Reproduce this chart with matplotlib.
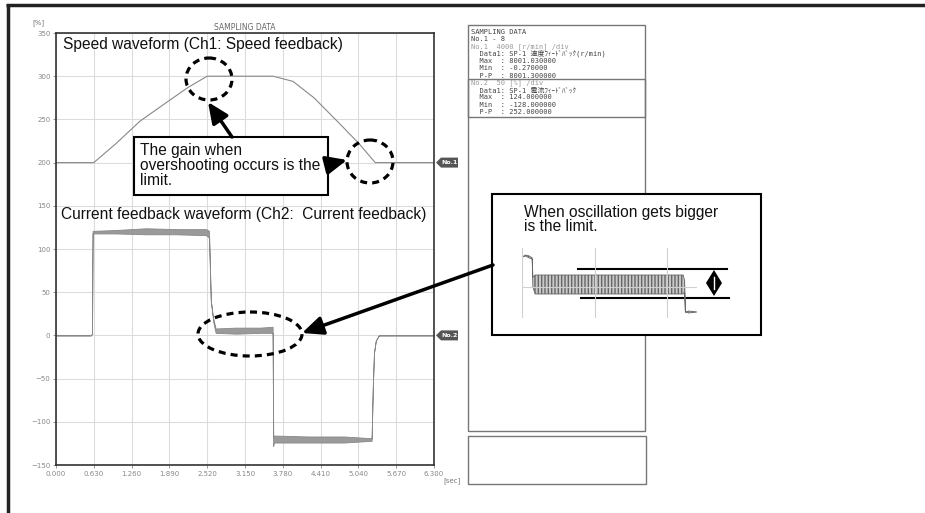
import matplotlib
matplotlib.use("Agg")
import matplotlib.pyplot as plt
from matplotlib.patches import Rectangle, Ellipse, Polygon

# speed feedback channel (display position, %)
spd_t = [0.00, 0.63, 1.00, 1.40, 1.85, 2.20, 2.52, 3.62, 3.95, 4.30, 4.70, 5.05, 5.32, 6.30]
spd_v = [200, 200, 222, 248, 270, 287, 300, 300, 294, 275, 247, 222, 200, 200]

# current feedback channel, noise envelope (low / high)
cur_t = [0.00, 0.58, 0.60, 0.61, 1.00, 1.50, 2.00, 2.50, 2.55, 2.58, 2.62, 2.66, 3.00,
         3.40, 3.61, 3.62, 3.63, 3.70, 4.20, 4.80, 5.26, 5.28, 5.30, 5.33, 5.38, 6.30]
cur_lo = [0, 0, 2, 118, 118, 117, 117, 116, 113, 40, 16, 3, 2,
          3, 3, -128, -124, -124, -124, -124, -122, -60, -20, -6, 0, 0]
cur_hi = [0, 0, 2, 121, 122, 124, 123, 123, 121, 40, 20, 8, 9,
          9, 10, -118, -116, -116, -117, -117, -119, -60, -20, -6, 0, 0]

x_ticks = [0.000, 0.630, 1.260, 1.890, 2.520, 3.150, 3.780, 4.410, 5.040, 5.670, 6.300]
y_ticks = [-150, -100, -50, 0, 50, 100, 150, 200, 250, 300, 350]

# zoomed oscillation in the callout
ins_t = [0.00, 0.05, 0.10, 0.14, 0.15, 0.18, 1.00, 2.22, 2.24, 2.25, 2.30, 2.41]
ins_lo = [30, 31, 29, 28, 0, -7, -7, -7, -5, -25, -26, -25]
ins_hi = [30, 32, 31, 29, 10, 12, 12, 12, 6, -25, -24, -25]

panel_lines = [
    ("SAMPLING DATA", "#444"),
    ("No.1 - 8", "#444"),
    ("No.1  4000 [r/min] /div", "#999"),
    ("  Data1: SP-1 速度ﾌｨｰﾄﾞﾊﾞｯｸ(r/min)", "#444"),
    ("  Max  : 8001.030000", "#444"),
    ("  Min  : -0.270000", "#444"),
    ("  P-P  : 8001.300000", "#444"),
    ("No.2  50 [%] /div", "#999"),
    ("  Data1: SP-1 電流ﾌｨｰﾄﾞﾊﾞｯｸ", "#444"),
    ("  Max  : 124.000000", "#444"),
    ("  Min  : -128.000000", "#444"),
    ("  P-P  : 252.000000", "#444"),
]

W, H = 925, 513
plt.rcParams["hatch.linewidth"] = 1.0
fig = plt.figure(figsize=(W / 100, H / 100), dpi=100)
fig.patch.set_facecolor("white")


def px(x0, y0, x1, y1):
    # pixel box (top-left origin) -> figure fraction rect
    return [x0 / W, 1 - y1 / H, (x1 - x0) / W, (y1 - y0) / H]


# main chart
ax = fig.add_axes(px(56, 33, 434, 465), zorder=1)
ax.set_xlim(0, 6.3)
ax.set_ylim(-150, 350)
ax.set_xticks(x_ticks)
ax.set_xticklabels([f"{v:.3f}" for v in x_ticks])
ax.set_yticks(y_ticks)
ax.grid(True, color="#dcdcdc", lw=0.8)
ax.set_axisbelow(True)
ax.tick_params(labelsize=5, colors="#888", length=2, width=0.6, pad=2)
for s in ax.spines.values():
    s.set_color("#333")
    s.set_linewidth(1.2)

ax.plot(spd_t, spd_v, color="#888", lw=0.8)
ax.fill_between(cur_t, cur_lo, cur_hi, facecolor="#9a9a9a", edgecolor="#888", lw=0.6)

# overlay in pixel coordinates
ov = fig.add_axes([0, 0, 1, 1], zorder=2)
ov.set_xlim(0, W)
ov.set_ylim(H, 0)
ov.axis("off")
ov.patch.set_alpha(0)

# outer frame (top and left only)
ov.plot([6, W], [4.5, 4.5], color="#222", lw=2.5, solid_capstyle="butt")
ov.plot([7.5, 7.5], [4, H], color="#222", lw=2.5, solid_capstyle="butt")

ov.text(245, 27, "SAMPLING DATA", fontsize=5.5, color="#666", ha="center", va="center")
ov.text(38, 23, "[%]", fontsize=5, color="#777", ha="center", va="center")
ov.text(452, 481, "[sec]", fontsize=5, color="#777", ha="center", va="center")

# channel markers
for val, lab in [(200, "No.1"), (0, "No.2")]:
    yp = H - ax.transData.transform((0, val))[1]
    ov.add_patch(Polygon([(436, yp), (441, yp - 5), (458, yp - 5), (458, yp + 5), (441, yp + 5)],
                         closed=True, fc="#555", ec="none"))
    ov.text(449.5, yp, lab, fontsize=4.5, color="white", fontweight="bold", ha="center", va="center")

# info panel
ov.add_patch(Rectangle((468, 25), 177, 406, fc="white", ec="#777", lw=1))
ov.add_patch(Rectangle((468, 79), 177, 38, fc="none", ec="#777", lw=1))
ov.add_patch(Rectangle((468, 436), 178, 48, fc="white", ec="#777", lw=1))
for i, (s, c) in enumerate(panel_lines):
    ov.text(471, 31.7 + i * 7.3, s, fontsize=5, color=c, ha="left", va="center",
            family=["DejaVu Sans Mono", "Noto Sans CJK JP"])

# titles
ov.text(63, 44, "Speed waveform (Ch1: Speed feedback)", fontsize=11.2,
        family="Liberation Sans", color="#111", ha="left", va="center")
ov.text(61, 214, "Current feedback waveform (Ch2:  Current feedback)", fontsize=11.2,
        family="Liberation Sans", color="#111", ha="left", va="center")

# overshoot callout
ov.add_patch(Rectangle((134, 137), 194, 58, fc="white", ec="black", lw=1.5, zorder=3))
ov.text(140, 143, "The gain when\novershooting occurs is the\nlimit.", fontsize=11.2,
        family="Liberation Sans", color="#111", ha="left", va="top", linespacing=1.02, zorder=4)

dash = (0, (2.2, 1.6))
ov.add_patch(Ellipse((209, 79), 46, 42, fill=False, ec="black", lw=2.3, ls=dash))
ov.add_patch(Ellipse((370, 161.5), 46, 43, fill=False, ec="black", lw=2.3, ls=dash))
ov.add_patch(Ellipse((250, 334), 104, 44, fill=False, ec="black", lw=2.3, ls=dash))

arrow = dict(arrowstyle="-|>,head_length=0.9,head_width=0.4", color="black", lw=2.5,
             mutation_scale=14, shrinkA=0, shrinkB=0)
ov.annotate("", xy=(208, 102), xytext=(232, 137), arrowprops=arrow)
ov.annotate("", xy=(347, 160), xytext=(327, 165), arrowprops=arrow)
ov.annotate("", xy=(302, 333), xytext=(493, 265), arrowprops=arrow)

# oscillation callout
ov.add_patch(Rectangle((492, 194), 269, 141, fc="white", ec="black", lw=1.5))
ov.text(524, 205, "When oscillation gets bigger\nis the limit.", fontsize=11.2,
        family="Liberation Sans", color="#111", ha="left", va="top", linespacing=0.95)
ov.plot([578, 727], [269, 269], color="black", lw=1.5)
ov.plot([581, 729], [298, 298], color="black", lw=1.5)
ov.add_patch(Polygon([(714, 270), (722, 283), (714, 296), (706, 283)], closed=True, fc="black", ec="none"))
ov.plot([714, 714], [277, 289], color="white", lw=1)

ins = fig.add_axes(px(522, 248, 697, 318), zorder=3)
ins.patch.set_alpha(0)
ins.set_xlim(0, 2.41)
ins.set_ylim(-31, 39)
ins.set_xticks([0, 1, 2])
ins.set_yticks([0])
ins.grid(True, color="#d0d0d0", lw=0.8)
ins.tick_params(left=False, bottom=False, labelleft=False, labelbottom=False)
for s in ins.spines.values():
    s.set_visible(False)
ins.fill_between(ins_t, ins_lo, ins_hi, facecolor="#c8c8c8", edgecolor="#666", hatch="|||||", lw=0.6)

fig.savefig("out.png", dpi=100)
